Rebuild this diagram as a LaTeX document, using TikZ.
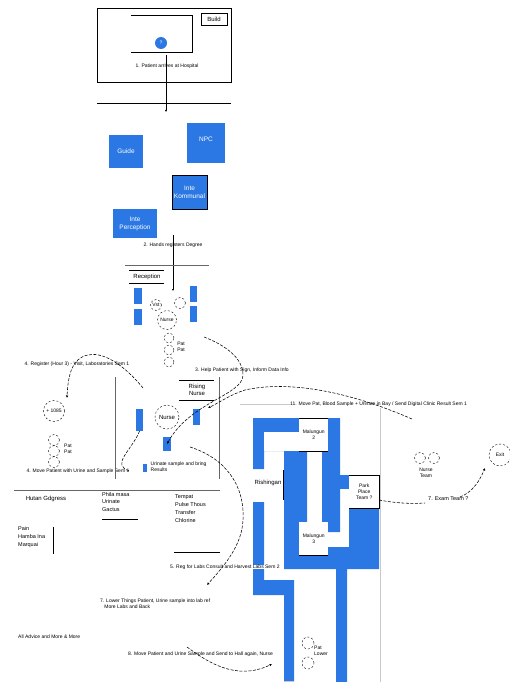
\documentclass[tikz,border=0pt]{standalone}
\usepackage{fontspec}
\setmainfont{Liberation Sans}
\usepackage{xcolor}
\usepackage{tikz}
\usetikzlibrary{arrows.meta,positioning,calc}
\definecolor{PlanBlue}{HTML}{2B78E4}
\definecolor{PlanGray}{HTML}{666666}
\definecolor{PlanEdge}{HTML}{C8C8C8}

\begin{document}
\begin{tikzpicture}[x=1pt,y=-1pt,
  every node/.style={font=\fontsize{5}{6}\selectfont, inner sep=0pt, align=left},
  room/.style={fill=PlanBlue, font=\fontsize{6.5}{8}\selectfont, text=white, align=center, inner sep=0pt},
  bed/.style={fill=PlanBlue, minimum width=7.5pt, minimum height=16pt},
  bedtall/.style={bed, minimum height=20pt},
  patient/.style={circle, draw, dashed, line width=0.4pt, dash pattern=on 2pt off 2pt, align=center},
  cutout/.style={fill=white, draw=black, line width=0.5pt, align=center},
  wall/.style={line width=0.6pt},
  flow/.style={-{Latex[length=2.5pt,width=2.5pt]}, dashed, line width=0.55pt, dash pattern=on 3pt off 1.5pt},
  plain/.style={dashed, line width=0.55pt, dash pattern=on 3pt off 1.5pt},
]
\useasboundingbox (0,0) rectangle (509,682);
% the ward plan in blue
\fill[PlanBlue] (253,418) -- (340,418) -- (340,532) -- (322,532) -- (322,451) -- (264,451)
   -- (264,432) -- (264,469) -- (253,469) -- cycle;
\fill[PlanBlue] (264,418) -- (299,418) -- (299,432) -- (264,432) -- cycle;
\fill[white] (264,432) rectangle (322,451);
\fill[PlanBlue] (299,432) rectangle (340,451);
\fill[PlanBlue] (253,502) -- (264,502) -- (264,580) -- (294,580) -- (294,682) -- (284,682)
   -- (284,595) -- (253,595) -- cycle;
\fill[PlanBlue] (284,451) -- (307,451) -- (307,522) -- (299,522) -- (299,555) -- (328,555)
   -- (328,547) -- (349,547) -- (349,508) -- (379,508) -- (379,569) -- (347,569) -- (347,682)
   -- (336,682) -- (336,569) -- (284,569) -- cycle;
\fill[PlanBlue] (340,475) rectangle (350,489);
\draw[PlanEdge, line width=0.8pt] (380,408) -- (380,682);
\draw[PlanEdge, line width=0.5pt] (284,681.5) -- (294,681.5) (240,404) -- (290,404);

% top block
\draw[wall, line width=0.8pt] (97,8) rectangle (231,82);
\draw[wall] (131,15) -- (192,15) -- (192,52) -- (131,52);
\node[cutout, minimum width=26pt, minimum height=12pt, font=\fontsize{6}{7}\selectfont] (build) at (214,19) {Build};
\node[circle, fill=PlanBlue, text=white, minimum size=12pt] (guest) at (161,43) {?};
\node (arrive) at (167,66) {1. Patient arrives at Hospital};
\draw[wall] (97,103) -- (231,103);
\coordinate (entrytop) at (166,55);
\coordinate (entryend) at (166,112);
\draw[-{Latex[length=2pt,width=2pt]}, line width=0.7pt] (entrytop) -- (entryend);

% blue rooms
\node[room, minimum width=34pt, minimum height=33pt] (guide) at (126,151) {Guide};
\node[room, minimum width=38pt, minimum height=39pt, text depth=8pt] (npc) at (206,143) {NPC};
\node[room, minimum width=35pt, minimum height=34pt, draw=black, line width=0.4pt] (kommunal) at (189.5,192) {Inte\\Kommunal};
\node[room, minimum width=44pt, minimum height=29pt] (perception) at (135,223.5) {Inte\\Perception};

% reception
\node (hands) at (173,245) {2. Hands registers Degree};
\coordinate (recepttop) at (173,235);
\coordinate (receptend) at (173,291);
\draw[-{Latex[length=2pt,width=2pt]}, line width=0.7pt] (recepttop) -- (receptend);
\draw[wall, PlanGray, line width=0.8pt] (125,265) -- (209,265);
\node[font=\fontsize{6}{7}\selectfont] (reception) at (147,276.5) {Reception};
\draw[wall] (129,270) -- (164,270) (129,283) -- (164,283);
\node[bed] (bedA) at (138,296) {};
\node[bed] (bedB) at (138,316.5) {};
\node[bed] (bedC) at (193.5,293.5) {};
\node[bed] (bedD) at (193.5,313.5) {};
\node[patient, minimum size=11pt] (visitA) at (156,305) {Vst};
\node[patient, minimum size=11pt] (visitB) at (180,303) {};
\node[patient, minimum size=19pt] (nurseA) at (167,320) {Nurse};
\node[patient, minimum size=10pt] (queueA) at (169,338) {};
\node[patient, minimum size=10pt] (queueB) at (169,350) {};
\node[patient, minimum size=10pt] (queueC) at (169,362) {};
\node (queuetext) at (181,347) {Pat\\Pat};

% sem 1 side
\node (regone) at (77,364) {4. Register (Hour 3) - Visit, Laboratories Sem 1};
\node (reghelp) at (242,370) {3. Help Patient with Sign, Inform Data Info};
\node[patient, minimum size=21pt] (lab) at (54,411) {+ 1085};
\node[patient, minimum size=11pt] (queueD) at (54,440) {};
\node[patient, minimum size=11pt] (queueE) at (54,451) {};
\node[patient, minimum size=11pt] (queueF) at (54,462) {};
\node (queuetextB) at (68,449) {Pat\\Pat};
\node (regfive) at (78,471) {4. Move Patient with Urine and Sample Sem 1};
\draw[wall, PlanGray, line width=0.8pt] (115,377) -- (115,479);
\node[bedtall, minimum height=22pt] (bedE) at (139.5,420) {};
\node[patient, minimum size=24pt, font=\fontsize{6}{7}\selectfont] (nurseB) at (167,417) {Nurse};
\node[bed] (bedF) at (196.5,416.5) {};
\node[bed, minimum height=14pt] (bedG) at (167,444) {};
\node[font=\fontsize{6}{7}\selectfont, align=center] (rising) at (197,390) {Rising\\Nurse};
\draw[wall] (179,380) -- (214,380) (179,400) -- (214,400);
\draw[wall, PlanGray, line width=1pt] (219,377) -- (219,479);
\node[fill=PlanBlue, minimum width=4.5pt, minimum height=8pt] (legend) at (145,468) {};
\node[right=3pt of legend, yshift=1pt] (legendtext) {Urinate sample and bring\\Results};

% lower left lists
\draw[wall, PlanGray, line width=0.8pt] (14,490) -- (220,490);
\node[font=\fontsize{6}{7}\selectfont] (hutan) at (46,498.5) {Hutan Gdgress};
\node[anchor=north west, font=\fontsize{5.5}{7.6}\selectfont] (phila) at (102,492) {Phila masa\\Urinate\\Gactus};
\draw[wall] (102,519) -- (138,519);
\node[anchor=north west, font=\fontsize{5.5}{7.8}\selectfont] (tempat) at (175,495) {Tempat\\Pulse Thous\\Transfer\\Chlorine};
\draw[wall] (174,552) -- (220,552);
\node[anchor=north west, font=\fontsize{5.5}{8}\selectfont] (pain) at (18,526) {Pain\\Hamba Ina\\Marquai};
\draw[wall] (53,527) -- (53,554);
\node[anchor=west] (advice) at (18,637) {All Advice and More \& More};
\node[anchor=west, fill=white] (regsix) at (170,567) {5. Reg for Labs Consult and Harvest Labs Sem 2};
\node[anchor=north west] (lower) at (100,599) {7. Lower Things Patient, Urine sample into lab ref\\\ \ \ More Labs and Back};
\node[anchor=west, fill=white] (moveback) at (128,654) {8. Move Patient and Urine Sample and Send to Hall again, Nurse};

% plan labels
\node[cutout, draw=none, minimum width=29pt, minimum height=33pt, anchor=north west, yshift=0pt] (malungtwo) at (299,418) {Malungun\\2};
\draw[wall] (299,418) -- (328,418) (299,451) -- (328,451);
\node[cutout, draw=none, minimum width=29pt, minimum height=33pt, anchor=north west] (malungthree) at (299,522) {Malungun\\3};
\draw[wall] (299,555) -- (328,555);
\node[font=\fontsize{6}{7}\selectfont] (rishingan) at (268,483) {Rishingan};
\draw[wall, line width=0.4pt] (283,470) -- (283,500);
\node[cutout, draw=none, minimum width=30pt, minimum height=33pt, anchor=north west] (park) at (349,475) {Park\\Place\\Team ?};
\draw[wall] (349,475) -- (379,475) -- (379,508) -- (349,508);
\node[patient, minimum size=12pt] (bayA) at (308,643) {};
\node[patient, minimum size=12pt] (bayB) at (308,663) {};
\node (baytext) at (321,651) {Pat\\Lower};
\node[anchor=west, fill=white] (regeleven) at (290,404) {11. Move Pat, Blood Sample + Urinate in Bay / Send Digital Clinic Result Sem 1};

% right side
\node[patient, minimum size=11pt] (pairA) at (420,458) {};
\node[patient, minimum size=11pt] (pairB) at (434,458) {};
\node[align=center] (team) at (426,473) {Nurse\\Team};
\node[patient, minimum size=22pt] (exit) at (500,455) {Exit};
\node[anchor=west, font=\fontsize{5.5}{7}\selectfont] (examteam) at (428,499) {7. Exam Team ?};

% dashed routes
\coordinate (helpfrom) at (204,337);
\coordinate (regfrom) at (143,388);
\coordinate (regto) at (67,398);
\coordinate (longfrom) at (412,419);
\coordinate (longto) at (208,408);
\coordinate (examfrom) at (460,497);
\coordinate (examto) at (485,468);
\coordinate (lowfrom) at (190,447);
\coordinate (lowto) at (207,585);
\coordinate (movefrom) at (187,647);
\coordinate (moveto) at (272,664);
\coordinate (parkfrom) at (379,500);
\coordinate (parkto) at (425,503);
\draw[flow] (helpfrom) .. controls (225,345) and (243,358) .. (243,375) .. controls (243,395) and (190,402) .. (bedG.center);
\draw[flow] (regfrom) .. controls (120,360) and (100,352) .. (88,355) .. controls (72,358) and (68,375) .. (regto);
\draw[flow] (longfrom) .. controls (350,392) and (290,380) .. (245,390) .. controls (232,394) and (220,402) .. (longto);
\draw[flow] (examfrom) .. controls (473,492) and (480,480) .. (examto);
\draw[flow] (lowfrom) .. controls (225,458) and (245,485) .. (243,520) .. controls (242,545) and (225,565) .. (lowto);
\draw[flow] (movefrom) .. controls (205,660) and (235,682) .. (moveto);
\draw[plain] (parkfrom) .. controls (395,503) and (410,504) .. (parkto);
\draw[plain] (bedE.south) .. controls (132,450) and (110,465) .. (regfive.east);
\end{tikzpicture}
\end{document}
